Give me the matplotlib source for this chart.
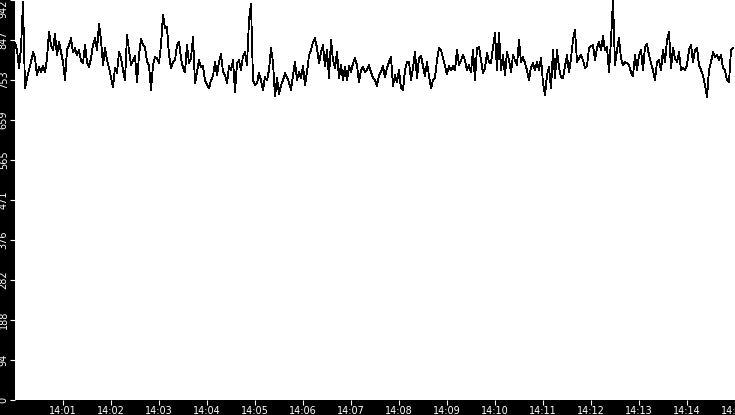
import matplotlib
matplotlib.use("Agg")
import matplotlib.pyplot as plt
import matplotlib.dates as mdates
import pandas as pd

# one sample every 2.5 s starting 14:00:00
start_time = "2024-01-01 14:00:00"
sample_step = "2500ms"

values = [
    841, 824, 782, 829, 937, 734, 758, 777, 796, 819,
    805, 765, 784, 772, 786, 772, 805, 866, 836, 824,
    862, 812, 843, 819, 796, 753, 824, 836, 852, 819,
    829, 812, 824, 800, 793, 836, 796, 784, 805, 836,
    852, 824, 885, 848, 789,
    829, 800, 782, 760, 737, 782, 770, 819, 805, 777,
    753, 859, 824, 789, 800, 810, 748, 812, 850, 836,
    831, 796, 789, 730, 789, 807, 805, 793, 836, 907,
    876, 878, 812, 782, 796, 800, 836, 843, 805, 782,
    772, 836, 793, 805, 855,
    746, 772, 800, 784, 786, 753, 744, 734, 753, 763,
    796, 765, 796, 815, 772, 765, 746, 786, 777, 800,
    725, 793, 800, 777, 810, 819, 789, 895, 933, 753,
    741, 746, 770, 753, 730, 760, 753, 777, 829, 796,
    715, 758, 720, 741, 753,
    770, 760, 748, 730, 765, 796, 753, 772, 758, 786,
    741, 772, 812, 824, 843, 852, 829, 793, 819, 836,
    786, 824, 758, 848, 800, 782, 819, 758, 789, 753,
    784, 753, 786, 772, 793, 805, 789, 748, 777, 784,
    772, 777, 789, 772, 758,
    753, 739, 765, 772, 786, 760, 782, 796, 807, 739,
    765, 748, 777, 734, 730, 777, 796, 796, 753, 782,
    819, 758, 805, 810, 786, 763, 796, 763, 734, 753,
    760, 800, 829, 824, 805, 786, 767, 786, 777, 786,
    777, 824, 789, 800, 812,
    800, 777, 789, 772, 824, 753, 829, 831, 800, 770,
    782, 817, 796, 793, 831, 864, 777, 864, 777, 812,
    765, 819, 800, 772, 812, 800, 789, 848, 796, 807,
    793, 777, 753, 784, 793, 777, 796, 777, 805, 746,
    718, 765, 784, 734, 824,
    758, 824, 784, 760, 758, 786, 812, 772, 805, 848,
    871, 796, 805, 812, 800, 782, 786, 829, 833, 836,
    800, 829, 843, 824, 857, 824, 831, 772, 848, 942,
    789, 824, 852, 805, 789, 796, 793, 789, 772, 763,
    812, 777, 812, 824, 777,
    831, 838, 812, 793, 777, 753, 796, 800, 777, 824,
    796, 848, 866, 782, 829, 805, 796, 819, 777, 782,
    777, 789, 824, 836, 796, 824, 829, 789, 777, 765,
    741, 713, 777, 796, 819, 807, 812, 800, 812, 782,
    777, 753, 748, 824, 829,
]

y_max = 942
y_ticks = [0, 94.2, 188.4, 282.6, 376.8, 471, 565.2, 659.4, 753.6, 847.8, 942]
y_labels = ["0", "94", "188", "282", "376", "471", "565", "659", "753", "847", "942"]

times = pd.date_range(start_time, periods=len(values), freq=sample_step)
x_start = pd.Timestamp(start_time)
x_end = x_start + pd.Timedelta(minutes=15)
x_ticks = pd.date_range(x_start + pd.Timedelta(minutes=1), x_end, freq="1min")

fig = plt.figure(figsize=(7.35, 4.15), dpi=100, facecolor="black")
ax = fig.add_axes([15 / 735, 15 / 415, 720 / 735, 400 / 415])
ax.set_facecolor("white")

ax.plot(times, values, color="black", linewidth=0.6, antialiased=False)

ax.set_xlim(x_start, x_end)
ax.set_ylim(0, y_max)

ax.set_xticks(x_ticks)
ax.xaxis.set_major_formatter(mdates.DateFormatter("%H:%M"))
ax.set_yticks(y_ticks)
ax.set_yticklabels(y_labels, rotation=90, va="center")
ax.get_yticklabels()[-1].set_va("top")

ax.tick_params(axis="both", colors="white", labelsize=7, length=3.5, width=0.8, pad=1)
for s in ax.spines.values():
    s.set_visible(False)

fig.savefig("out.png", dpi=100, facecolor="black")
